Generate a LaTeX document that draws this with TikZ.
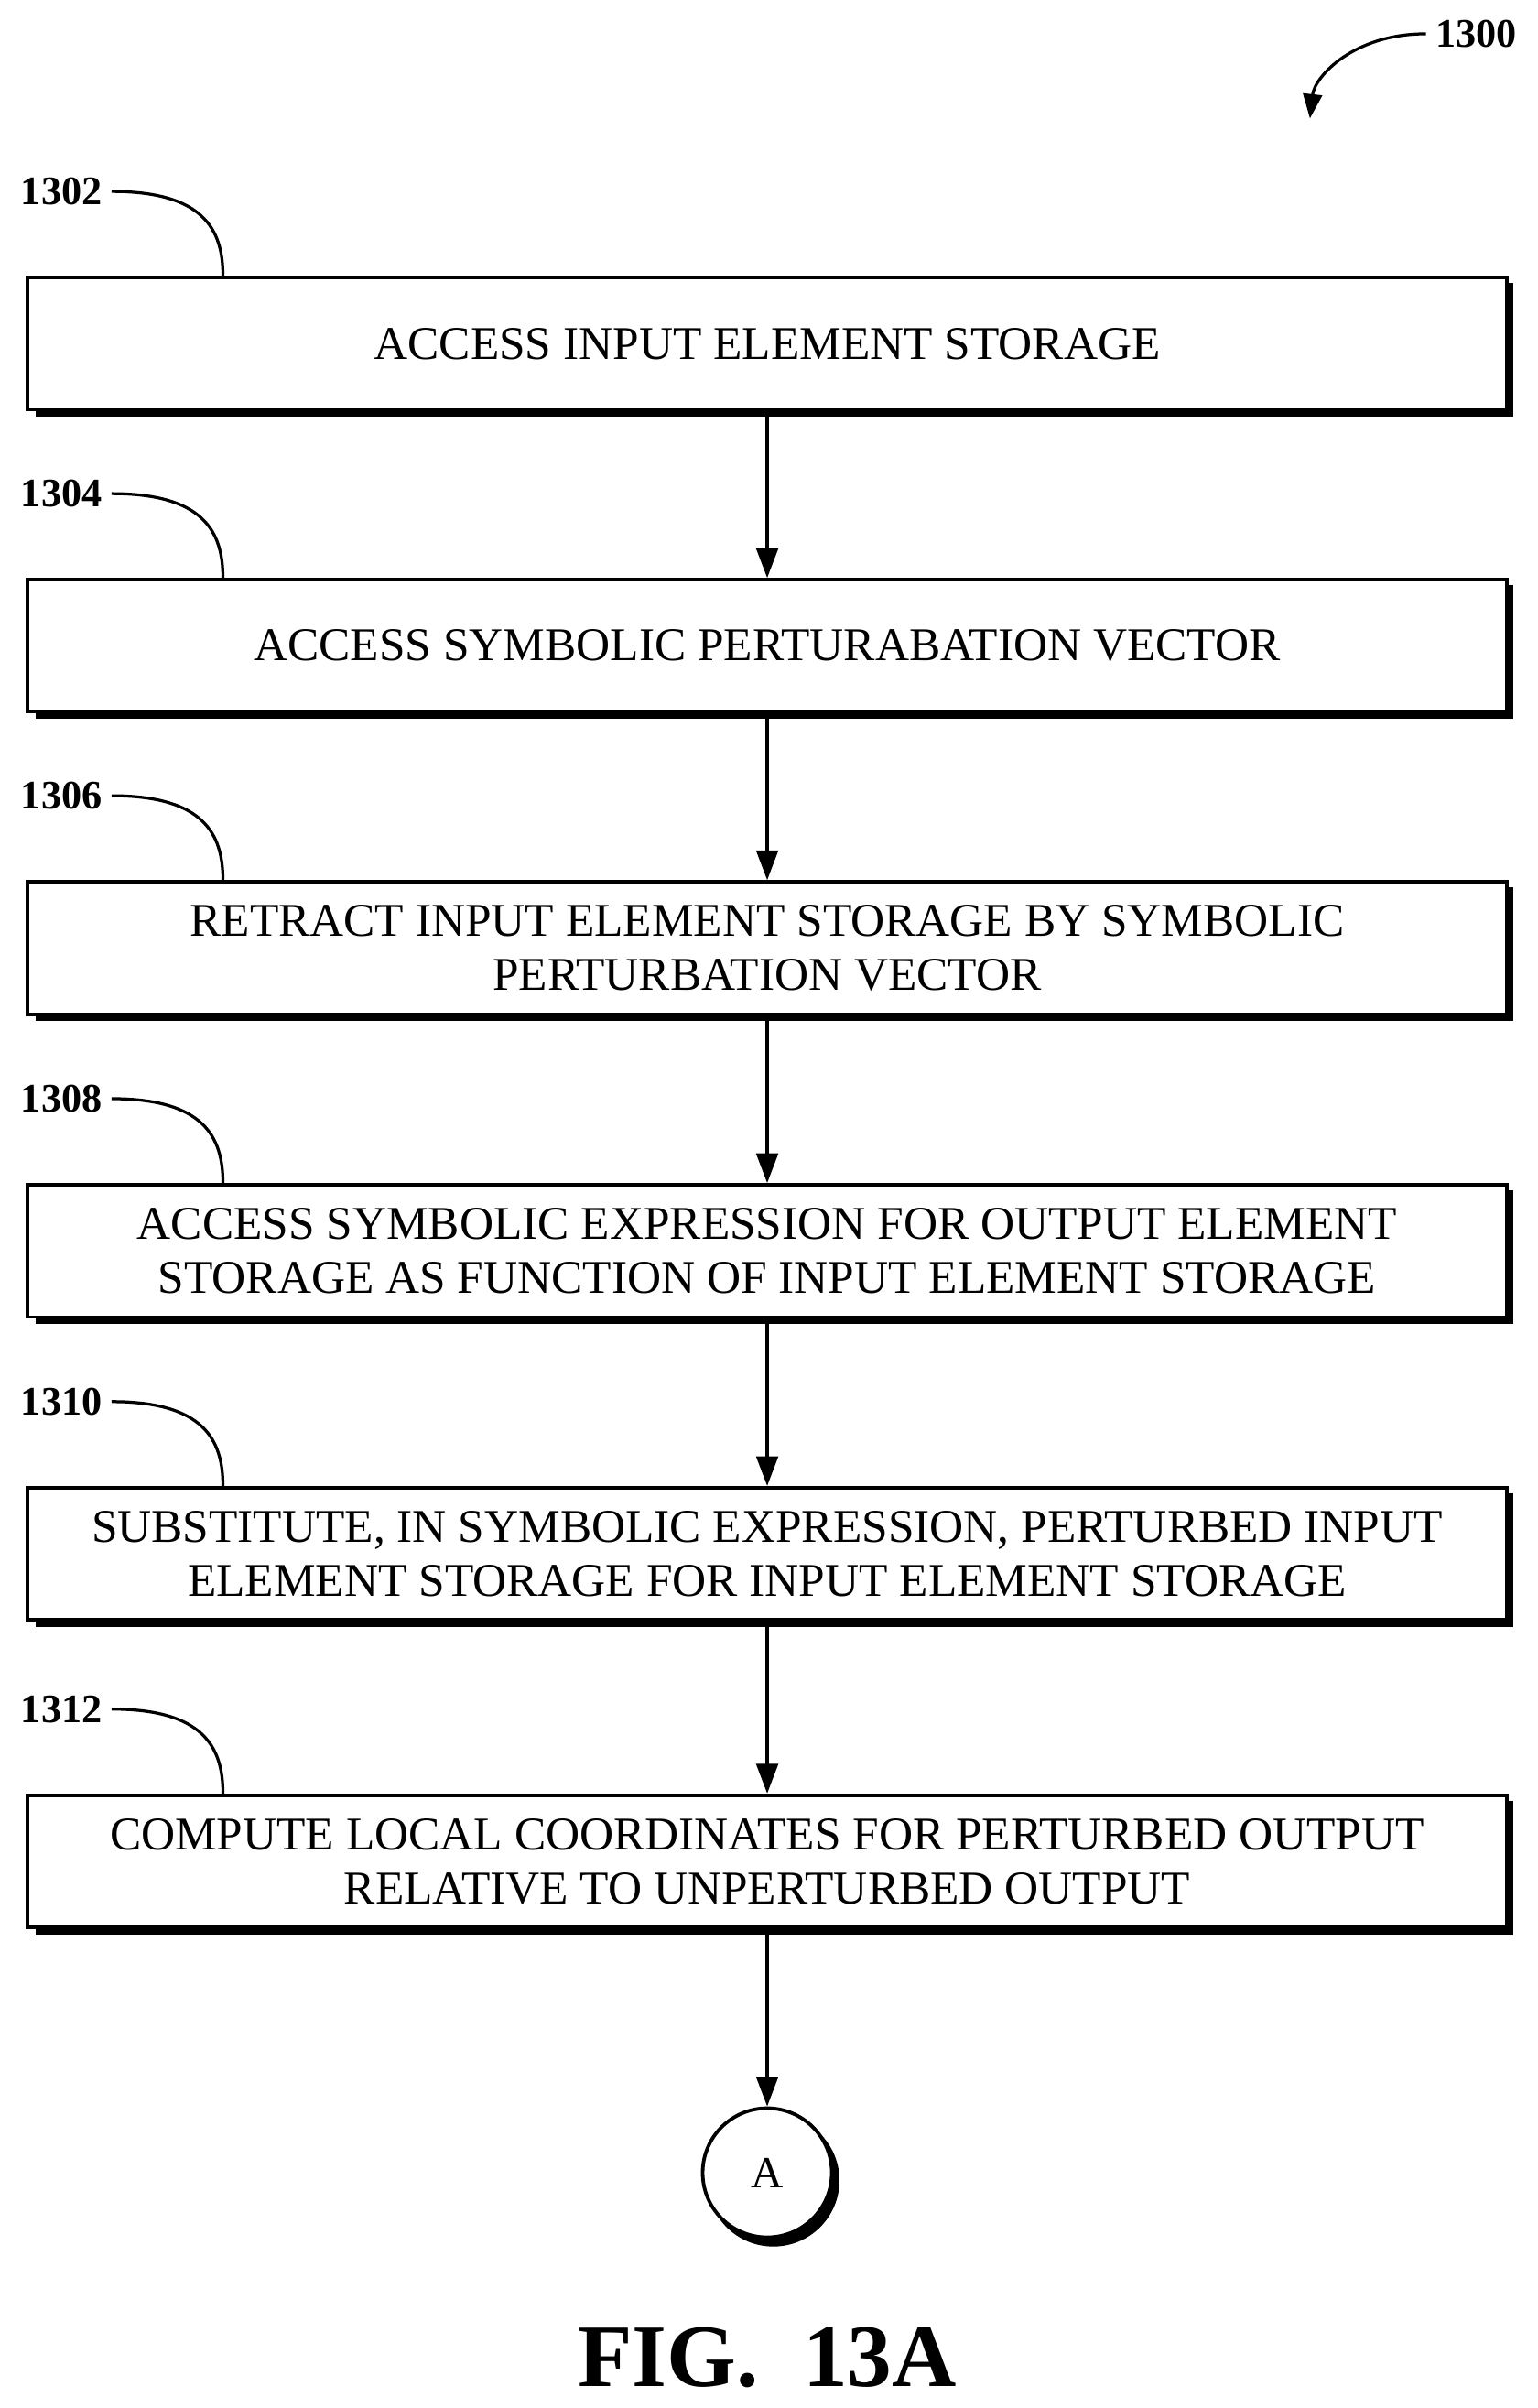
\documentclass[tikz,border=0pt]{standalone}
\usepackage{fontspec}
\setmainfont{Liberation Serif}
\usetikzlibrary{arrows.meta}
\begin{document}
\begin{tikzpicture}[x=0.02cm,y=-0.02cm,
  box/.style={draw,line width=1.3pt,fill=white,minimum width=19.24cm,minimum height=1.72cm,align=center,font=\fontsize{17.4}{20}\selectfont,inner sep=0pt},
  shad/.style={fill=black},
  lbl/.style={font=\bfseries\fontsize{15}{18}\selectfont},
  arr/.style={line width=1.2pt,-{Triangle[length=11pt,width=8pt]}},
  lead/.style={line width=1.1pt}]
\useasboundingbox (0,0) rectangle (1000,1566);
\foreach \y/\t/\n/\l in {223.5/{ACCESS INPUT ELEMENT STORAGE}/b1/1302,
  420/{ACCESS SYMBOLIC PERTURABATION VECTOR}/b2/1304,
  616.5/{RETRACT INPUT ELEMENT STORAGE BY SYMBOLIC\\PERTURBATION VECTOR}/b3/1306,
  813.5/{ACCESS SYMBOLIC EXPRESSION FOR OUTPUT ELEMENT\\STORAGE AS FUNCTION OF INPUT ELEMENT STORAGE}/b4/1308,
  1010.5/{SUBSTITUTE, IN SYMBOLIC EXPRESSION, PERTURBED INPUT\\ELEMENT STORAGE FOR INPUT ELEMENT STORAGE}/b5/1310,
  1210.5/{COMPUTE LOCAL COORDINATES FOR PERTURBED OUTPUT\\RELATIVE TO UNPERTURBED OUTPUT}/b6/1312}{
  \fill[shad] (23,\y-39.5) rectangle (984,\y+47.5);
  \node[box] (\n) at (499,\y) {\t};
  \node[lbl] (l\n) at (40,\y-99) {\l};
  \draw[lead] (l\n.east) .. controls ++(60,0) and ++(0,-30) .. (\n.north west -| 145,0);
}
\foreach \a/\b in {b1/b2,b2/b3,b3/b4,b4/b5,b5/b6}{\draw[arr] (\a) -- (\b);}
\fill (503,1418) circle (43);
\node[circle,draw,line width=1.3pt,fill=white,minimum size=1.68cm,font=\fontsize{16.5}{20}\selectfont] (A) at (499,1413) {A};
\draw[arr] (b6) -- (A);
\node[lbl] (n1300) at (960,22) {1300};
\draw[lead,-{Triangle[length=9pt,width=7pt]}] (n1300.west) .. controls (880,22) and (855,50) .. (852,77);
\node[font=\bfseries\fontsize{33}{36}\selectfont] (fig) at (499,1533) {FIG.\ \ 13A};
\end{tikzpicture}
\end{document}
